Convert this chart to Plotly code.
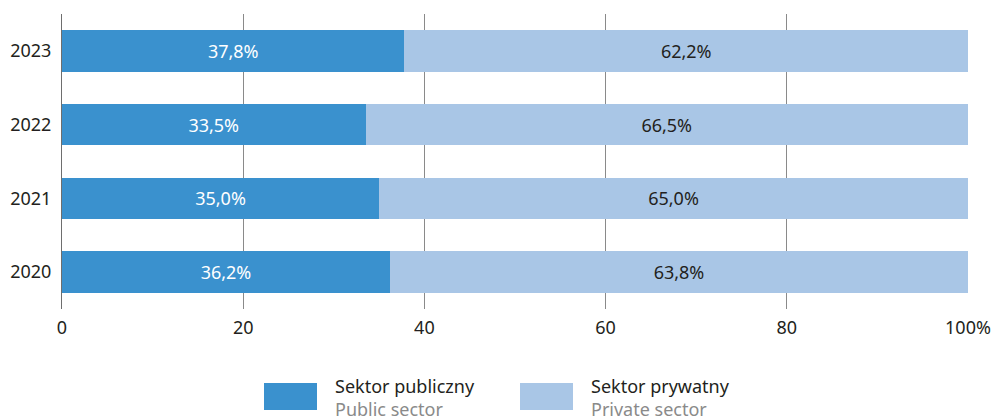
import plotly.graph_objects as go

years = ["2020", "2021", "2022", "2023"]
public = [36.2, 35.0, 33.5, 37.8]
private = [63.8, 65.0, 66.5, 62.2]
x_ticks = [0, 20, 40, 60, 80, 100]
x_tick_labels = ["0", "20", "40", "60", "80", "100%"]
legend_pl = ["Sektor publiczny", "Sektor prywatny"]
legend_en = ["Public sector", "Private sector"]

c_pub = "#3A91CE"
c_priv = "#A9C6E6"
font = "Noto Sans"
fs = 18

def fmt(v):
    return f"{v:.1f}%".replace(".", ",")

fig = go.Figure()
fig.add_trace(go.Bar(
    y=years, x=public, orientation="h", marker=dict(color=c_pub, line=dict(width=0)),
    text=[fmt(v) for v in public], textposition="inside", insidetextanchor="middle",
    textfont=dict(color="white", size=fs, family=font), name=legend_pl[0], showlegend=False,
))
fig.add_trace(go.Bar(
    y=years, x=private, orientation="h", marker=dict(color=c_priv, line=dict(width=0)),
    text=[fmt(v) for v in private], textposition="inside", insidetextanchor="middle",
    textfont=dict(color="#231F20", size=fs, family=font), name=legend_pl[1], showlegend=False,
))

# page has an 8px body margin: figure origin is at page (8, 8)
fig.update_layout(
    barmode="stack", bargap=0.44,
    width=994, height=408,
    margin=dict(l=54, r=34, t=6, b=107, autoexpand=False),
    paper_bgcolor="white", plot_bgcolor="white",
    font=dict(family=font, size=fs, color="#231F20"),
    uniformtext=dict(minsize=10, mode="show"),
)
fig.update_xaxes(range=[0, 100], tickvals=x_ticks, ticktext=x_tick_labels,
                 showgrid=True, gridcolor="#8a8a8a", gridwidth=1,
                 zeroline=False, showline=False, ticks="", ticklabelstandoff=6,
                 automargin=False,
                 tickfont=dict(size=fs, family=font, color="#231F20"))
fig.update_yaxes(range=[-0.5, 3.5], showgrid=False, zeroline=False,
                 showline=True, linecolor="#6e6e6e", linewidth=1,
                 ticks="", ticklabelstandoff=6, automargin=False,
                 tickfont=dict(size=fs, family=font, color="#231F20"))

# custom legend (page pixel positions converted to plot-area paper coords)
H = 295.0
W = 906.0
def px(x):
    return (x - 62) / W
def py(y):
    return (309 - y) / H

for x0, x1, col in [(264, 317, c_pub), (520, 573, c_priv)]:
    fig.add_shape(type="rect", xref="paper", yref="paper",
                  x0=px(x0), x1=px(x1), y0=py(410), y1=py(383),
                  fillcolor=col, line=dict(width=0))
for i, tx in enumerate([333, 589]):
    fig.add_annotation(xref="paper", yref="paper", x=px(tx), y=py(372),
                       xanchor="left", yanchor="top", showarrow=False, align="left",
                       text=f"{legend_pl[i]}<br><span style='color:#8a8a8a'>{legend_en[i]}</span>",
                       font=dict(size=fs, family=font, color="#231F20"))

fig.write_html("out.html")
